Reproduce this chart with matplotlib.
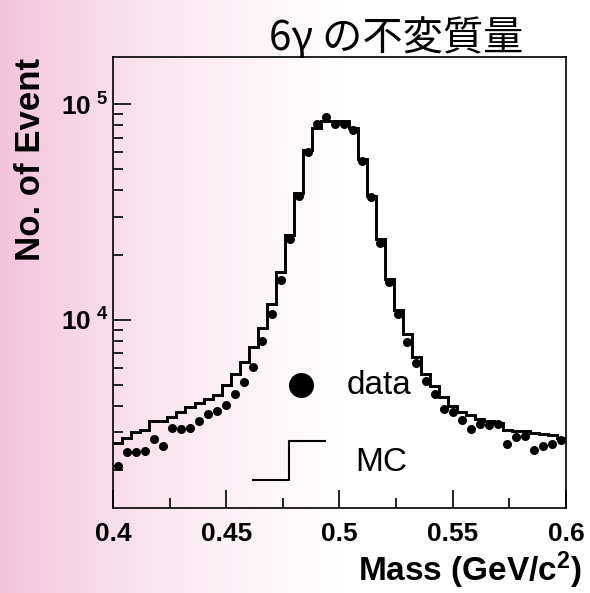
import numpy as np
import matplotlib
matplotlib.use('Agg')
import matplotlib.pyplot as plt
from matplotlib.colors import LinearSegmentedColormap
from matplotlib.ticker import FixedLocator, LogLocator, NullFormatter

# 6 photon invariant mass, 50 bins from 0.4 to 0.6 GeV/c^2
mass_lo = 0.4
mass_hi = 0.6
n_bins = 50

data_counts = [2090, 2430, 2430, 2450, 2800, 2610, 3140, 3110, 3140, 3390,
               3670, 3780, 4030, 4530, 5120, 6040, 7980, 10600, 15300, 23800,
               37500, 59900, 81400, 87900, 81400, 81400, 76000, 54400, 37000, 22800,
               15000, 10700, 7910, 6310, 5180, 4530, 3870, 3750, 3420, 3110,
               3280, 3250, 3290, 2650, 2860, 2880, 2500, 2610, 2650, 2770]

mc_counts = [2690, 2820, 3000, 3090, 3390, 3410, 3530, 3750, 3930, 4100,
             4280, 4490, 4970, 5610, 6340, 7450, 9190, 11850, 16700, 24800,
             39000, 61300, 77500, 83400, 83400, 83400, 77500, 56100, 37500, 23800,
             15400, 11060, 8580, 6730, 5610, 4930, 4400, 3980, 3720, 3600,
             3460, 3390, 3320, 3090, 3040, 3060, 2990, 2940, 2920, 2820]

x_ticks = [0.4, 0.45, 0.5, 0.55, 0.6]
x_tick_labels = ['0.4', '0.45', '0.5', '0.55', '0.6']
y_ticks = [1e4, 1e5]
y_tick_labels = ['10$^{\\ 4}$', '10$^{\\ 5}$']

plt.rcParams['mathtext.default'] = 'regular'
plt.rcParams['font.family'] = ['Liberation Sans', 'DejaVu Sans']

fig = plt.figure(figsize=(5.9, 5.93), dpi=100)

# pink marble-ish slide background, fading to white towards the right
bg = fig.add_axes([0, 0, 1, 1], zorder=-10)
pink = LinearSegmentedColormap.from_list('pink_bg', [
    (0.0, (0.95, 0.77, 0.86)),
    (0.17, (0.97, 0.86, 0.91)),
    (0.34, (0.985, 0.93, 0.955)),
    (0.50, (0.995, 0.975, 0.985)),
    (0.58, (1.0, 1.0, 1.0)),
    (1.0, (1.0, 1.0, 1.0))])
bg.imshow(np.linspace(0, 1, 256)[None, :], aspect='auto', cmap=pink,
          extent=[0, 1, 0, 1])
bg.axis('off')

ax = fig.add_axes([0.1915, 0.1433, 0.7678, 0.7614])
ax.set_facecolor('none')

edges = np.linspace(mass_lo, mass_hi, n_bins + 1)
centers = 0.5 * (edges[:-1] + edges[1:])

ax.stairs(mc_counts, edges, color='black', lw=2.1, baseline=None)
ax.plot(centers, data_counts, 'o', color='black', ms=6.5, mec='none')

ax.set_yscale('log')
ax.set_xlim(mass_lo, mass_hi)
ax.set_ylim(1338, 1.67e5)

ax.xaxis.set_major_locator(FixedLocator(x_ticks))
ax.xaxis.set_minor_locator(FixedLocator([0.425, 0.475, 0.525, 0.575]))
ax.set_xticklabels(x_tick_labels, fontsize=19, fontweight='bold')
ax.yaxis.set_major_locator(FixedLocator(y_ticks))
ax.yaxis.set_minor_locator(LogLocator(base=10, subs=np.arange(2, 10)))
ax.yaxis.set_minor_formatter(NullFormatter())
ax.set_yticklabels(y_tick_labels, fontsize=19, fontweight='bold')

ax.tick_params(which='both', direction='in', top=False, right=False, width=1.2)
ax.tick_params(which='major', length=13)
ax.tick_params(which='minor', length=7)
ax.tick_params(axis='x', pad=10)
ax.tick_params(axis='y', pad=3)
for sp in ax.spines.values():
    sp.set_linewidth(1.2)

# hand drawn legend, like the ROOT one
ax.plot([0.415], [0.272], 'o', color='black', ms=18, mec='none',
        transform=ax.transAxes, clip_on=False)
ax.text(0.515, 0.272, 'data', transform=ax.transAxes, fontsize=24,
        va='center', ha='left')
ax.plot([0.309, 0.388, 0.388, 0.469], [0.063, 0.063, 0.148, 0.148],
        color='black', lw=1.5, transform=ax.transAxes)
ax.text(0.535, 0.100, 'MC', transform=ax.transAxes, fontsize=24,
        va='center', ha='left')

fig.text(0.051, 0.902, 'No. of Event', rotation=90, fontsize=25,
         fontweight='bold', ha='center', va='top')
fig.text(0.987, 0.020, 'Mass (GeV/c$^{2}$)', fontsize=24, fontweight='bold',
         ha='right', va='baseline')
fig.text(0.671, 0.935, '6γ の不変質量', fontsize=29, ha='center', va='center',
         family=['Noto Sans CJK JP', 'DejaVu Sans'])

fig.savefig('out.png', dpi=100)
